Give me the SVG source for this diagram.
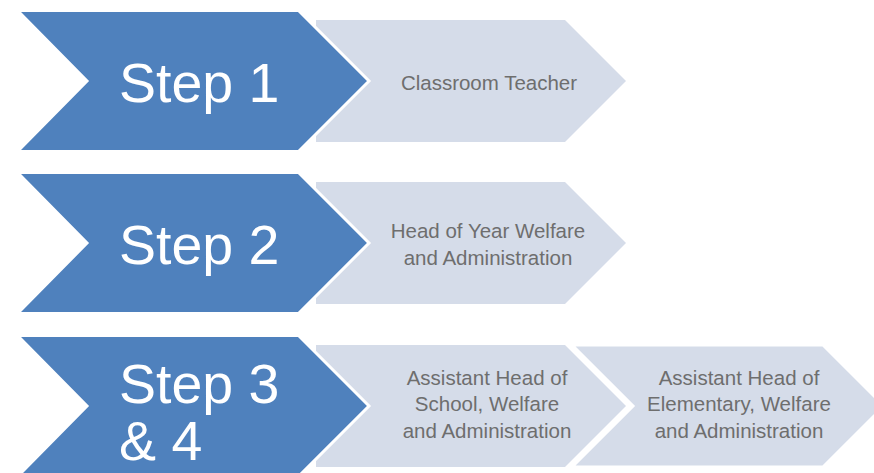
<svg xmlns="http://www.w3.org/2000/svg" width="874" height="473" viewBox="0 0 874 473">
  <style>
    .step { fill: #4F81BD; stroke: #FFFFFF; stroke-width: 3; stroke-linejoin: miter; }
    .item { fill: #D5DCE9; }
    .item-s { fill: #D5DCE9; stroke: #FFFFFF; stroke-width: 3; stroke-linejoin: miter; }
    .big { font-family: "Liberation Sans", Arial, sans-serif; font-size: 55.5px; fill: #FFFFFF; }
    .lbl { font-family: "Liberation Sans", Arial, sans-serif; font-size: 20.5px; fill: #6E6E6E; text-anchor: middle; }
  </style>
  <rect width="874" height="473" fill="#FFFFFF"/>

  <!-- Row 1 -->
  <g id="item-classroom-teacher">
    <polygon class="item" points="316,20 565,20 626,81 565,142 316,142"/>
    <text class="lbl" x="489" y="90">Classroom Teacher</text>
  </g>
  <g id="step-1">
    <polygon class="step" points="17.5,10.5 298.5,10.5 369,81 298.5,151.5 17.5,151.5 87,81"/>
    <text class="big" x="119" y="102">Step 1</text>
  </g>

  <!-- Row 2 -->
  <g id="item-head-of-year">
    <polygon class="item" points="316,182 565,182 626,243 565,304 316,304"/>
    <text class="lbl" x="488" y="238">Head of Year Welfare</text>
    <text class="lbl" x="488" y="265">and Administration</text>
  </g>
  <g id="step-2">
    <polygon class="step" points="17.5,172.5 298.5,172.5 369,243 298.5,313.5 17.5,313.5 87,243"/>
    <text class="big" x="119" y="264">Step 2</text>
  </g>

  <!-- Row 3 -->
  <g id="item-assistant-head-school">
    <polygon class="item" points="316,345 565,345 626,406 565,467 316,467"/>
    <text class="lbl" x="487" y="385">Assistant Head of</text>
    <text class="lbl" x="487" y="411">School, Welfare</text>
    <text class="lbl" x="487" y="438">and Administration</text>
  </g>
  <g id="item-assistant-head-elementary">
    <polygon class="item-s" points="572,345 823,345 884,406 823,467 572,467 633,406"/>
    <text class="lbl" x="739" y="385">Assistant Head of</text>
    <text class="lbl" x="739" y="411">Elementary, Welfare</text>
    <text class="lbl" x="739" y="438">and Administration</text>
  </g>
  <g id="step-3-4">
    <polygon class="step" points="17.5,335.5 298.5,335.5 369,406 298.5,476.5 17.5,476.5 87,406"/>
    <text class="big" x="119" y="403">Step 3</text>
    <text class="big" x="119" y="460">&amp; 4</text>
  </g>

  <!-- no connectors: the chevrons themselves imply the sequence -->
  <g id="connectors"/>
</svg>
